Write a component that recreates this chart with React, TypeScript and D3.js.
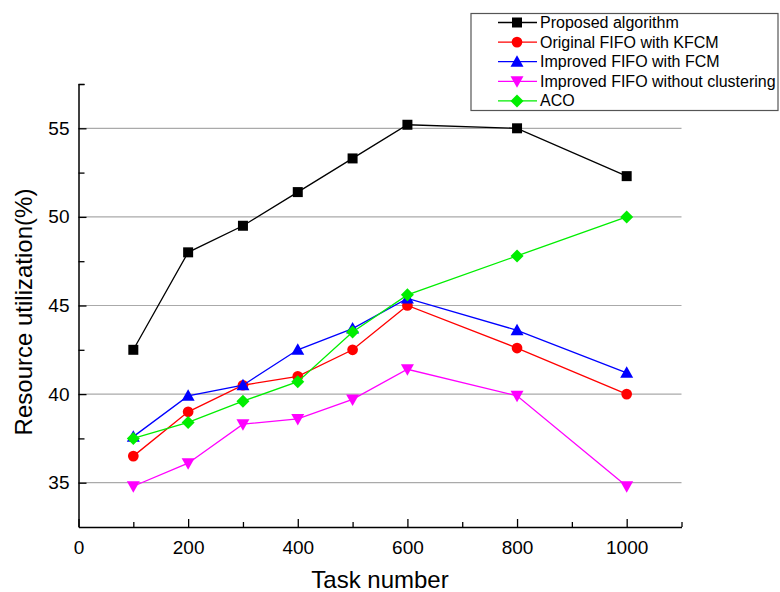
import { useEffect, useRef } from "react";
import * as d3 from "d3";

const taskNumbers = [100, 200, 300, 400, 500, 600, 800, 1000];

const proposed = [42.5, 48.0, 49.5, 51.4, 53.3, 55.2, 55.0, 52.3];
const fifoKfcm = [36.5, 39.0, 40.5, 41.0, 42.5, 45.0, 42.6, 40.0];
const fifoFcm = [37.6, 39.9, 40.5, 42.5, 43.7, 45.4, 43.6, 41.2];
const fifoNoClust = [34.8, 36.1, 38.3, 38.6, 39.7, 41.4, 39.9, 34.8];
const aco = [37.5, 38.4, 39.6, 40.7, 43.5, 45.6, 47.8, 50.0];

const seriesNames = [
  "Proposed algorithm",
  "Original FIFO with KFCM",
  "Improved FIFO with FCM",
  "Improved FIFO without clustering",
  "ACO",
];
const seriesColors = ["#000000", "#ff0000", "#0000ff", "#ff00ff", "#00ee00"];
const seriesSymbols = ["square", "circle", "triangle", "triangleDown", "diamond"];

const xTicks = [0, 200, 400, 600, 800, 1000];
const yTicks = [35, 40, 45, 50, 55];

const App = () => {
  const ref = useRef<SVGSVGElement>(null);

  useEffect(() => {
    const w = 780;
    const h = 592;
    const svg = d3.select(ref.current).attr("width", w).attr("height", h);
    svg.selectAll("*").remove();

    const font = "'Liberation Sans', Arial, sans-serif";
    const left = 78.5;
    const right = 681.5;
    const top = 84;
    const bottom = 527;

    const x = d3.scaleLinear().domain([0, 1100]).range([left, right]);
    const y = d3.scaleLinear().domain([32.5, 57.5]).range([bottom, top]);

    // grid lines
    svg
      .append("g")
      .selectAll("line")
      .data(yTicks)
      .join("line")
      .attr("x1", left)
      .attr("x2", right)
      .attr("y1", (d) => y(d))
      .attr("y2", (d) => y(d))
      .attr("stroke", "#aaaaaa")
      .attr("stroke-width", 1.2);

    // x axis, ticks inside
    const xAxis = d3
      .axisBottom(x)
      .tickValues(d3.range(0, 1101, 100))
      .tickSize(-8)
      .tickSizeOuter(0)
      .tickFormat((d) => (xTicks.includes(+d) ? String(d) : ""));
    const gx = svg.append("g").attr("transform", `translate(0,${bottom})`).call(xAxis);
    gx.select(".domain").attr("stroke", "#000").attr("stroke-width", 1.5);
    gx.selectAll(".tick line")
      .attr("stroke", "#000")
      .attr("stroke-width", 1.3)
      .attr("y2", (d: any) => (xTicks.includes(+d) ? -8 : -5));
    gx.selectAll(".tick text")
      .attr("y", 14)
      .attr("font-size", 19)
      .attr("font-family", font)
      .attr("fill", "#000");

    // y axis, ticks inside
    const yAxis = d3
      .axisLeft(y)
      .tickValues(d3.range(35, 57.6, 2.5).concat([57.5]))
      .tickSize(-8)
      .tickSizeOuter(0)
      .tickFormat((d) => (yTicks.includes(+d) ? String(d) : ""));
    const gy = svg.append("g").attr("transform", `translate(${left},0)`).call(yAxis);
    gy.select(".domain").attr("stroke", "#000").attr("stroke-width", 1.5);
    gy.selectAll(".tick line")
      .attr("stroke", "#000")
      .attr("stroke-width", 1.3)
      .attr("x2", (d: any) => (yTicks.includes(+d) ? 8 : 6));
    gy.selectAll(".tick text")
      .attr("x", -9)
      .attr("font-size", 19)
      .attr("font-family", font)
      .attr("fill", "#000");

    // axis titles
    svg
      .append("text")
      .attr("x", 380)
      .attr("y", 588)
      .attr("text-anchor", "middle")
      .attr("font-size", 24)
      .attr("font-family", font)
      .text("Task number");
    svg
      .append("text")
      .attr("transform", "translate(32,312) rotate(-90)")
      .attr("text-anchor", "middle")
      .attr("font-size", 24)
      .attr("font-family", font)
      .text("Resource utilization(%)");

    const symbolPath = (kind: string) => {
      if (kind === "square") return d3.symbol(d3.symbolSquare, 100)();
      if (kind === "circle") return d3.symbol(d3.symbolCircle, 90)();
      if (kind === "diamond") return "M0,-6.5L6.5,0L0,6.5L-6.5,0Z";
      if (kind === "triangle") return "M0,-6.5L6.5,5L-6.5,5Z";
      return "M0,6.5L6.5,-5L-6.5,-5Z";
    };

    const allSeries = [proposed, fifoKfcm, fifoFcm, fifoNoClust, aco];
    const line = d3
      .line<number>()
      .x((_, i) => x(taskNumbers[i]))
      .y((d) => y(d));

    allSeries.forEach((vals, s) => {
      const g = svg.append("g");
      g.append("path")
        .attr("d", line(vals))
        .attr("fill", "none")
        .attr("stroke", seriesColors[s])
        .attr("stroke-width", 1.3);
      g.selectAll("path.mk")
        .data(vals)
        .join("path")
        .attr("class", "mk")
        .attr("d", symbolPath(seriesSymbols[s]))
        .attr("transform", (d, i) => `translate(${x(taskNumbers[i])},${y(d)})`)
        .attr("fill", seriesColors[s]);
    });

    // legend
    const lg = svg.append("g");
    lg.append("rect")
      .attr("x", 471)
      .attr("y", 13.5)
      .attr("width", 307)
      .attr("height", 97)
      .attr("fill", "#fff")
      .attr("stroke", "#555")
      .attr("stroke-width", 1.2);
    seriesNames.forEach((name, s) => {
      const cy = 22.5 + s * 19.6;
      lg.append("line")
        .attr("x1", 498)
        .attr("x2", 537)
        .attr("y1", cy)
        .attr("y2", cy)
        .attr("stroke", seriesColors[s])
        .attr("stroke-width", 1.3);
      lg.append("path")
        .attr("d", symbolPath(seriesSymbols[s]))
        .attr("transform", `translate(517,${cy})`)
        .attr("fill", seriesColors[s]);
      lg.append("text")
        .attr("x", 540)
        .attr("y", cy + 5.5)
        .attr("font-size", 16)
        .attr("font-family", font)
        .text(name);
    });
  }, []);

  return <svg ref={ref} style={{ position: "absolute", left: 0, top: 0, background: "#fff" }}></svg>;
};

export default App;
